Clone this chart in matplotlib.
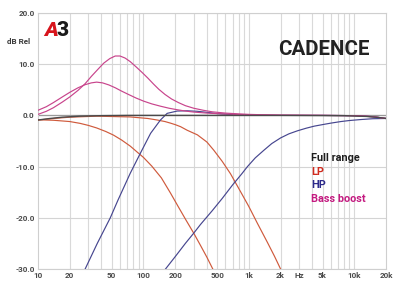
import matplotlib
matplotlib.use("Agg")
import matplotlib.pyplot as plt
from matplotlib.ticker import FixedLocator, NullFormatter, NullLocator

# ---- data ----
full_f = [10, 13, 17, 25, 40, 70, 150, 500, 2000, 8000, 13000, 17000, 20000]
full_db = [-0.9, -0.6, -0.35, -0.15, -0.05, 0, 0, 0, 0, -0.05, -0.2, -0.4, -0.6]

lp1_f = [10, 14, 20, 25, 30, 36, 44, 52, 62, 75, 90, 100, 120, 148, 181, 215, 251, 300, 348, 400, 455]
lp1_db = [-0.85, -0.95, -1.2, -1.55, -1.95, -2.45, -3.15, -3.85, -4.8, -6.0, -7.4, -8.2, -9.9, -12.2, -15.2, -17.9, -20.3, -23.0, -25.4, -27.7, -30]

lp2_f = [10, 15, 20, 36, 75, 110, 135, 160, 180, 200, 225, 260, 325, 400, 465, 560, 670, 840, 1000, 1200, 1500, 1750, 2000]
lp2_db = [-0.9, -0.55, -0.35, -0.15, -0.3, -0.6, -0.9, -1.2, -1.5, -1.8, -2.2, -2.9, -3.8, -5.2, -6.8, -9, -11.4, -15, -17.8, -21, -24.8, -27.5, -30]

hp1_f = [28, 36.5, 48.5, 57.5, 75, 93.5, 117, 145, 168, 209, 260, 325, 400, 505, 700, 970, 2000, 5000, 10000, 15000, 20000]
hp1_db = [-30, -25, -20, -16.5, -11.3, -7.4, -3.5, -0.9, 0.4, 0.85, 0.9, 0.8, 0.6, 0.35, 0.15, 0.05, 0, 0, -0.05, -0.25, -0.6]

hp2_f = [162, 200, 250, 300, 348, 450, 560, 700, 850, 970, 1150, 1390, 1650, 2000, 2400, 2900, 3500, 4170, 5000, 6030, 7480, 9000, 11700, 15000, 20000]
hp2_db = [-30, -27.6, -25, -23, -21.3, -18.6, -16.2, -13.6, -11.5, -10, -8.3, -6.8, -5.5, -4.4, -3.6, -3.0, -2.5, -2.1, -1.8, -1.5, -1.2, -1.0, -0.8, -0.65, -0.6]

bb1_f = [10, 12, 14, 17, 20, 24, 28, 32, 37, 42, 48, 54, 60, 67, 75, 85, 97, 110, 125, 140, 160, 185, 215, 250, 300, 370, 450, 600, 800, 1000, 1500, 2000, 5000, 10000, 15000, 20000]
bb1_db = [0.2, 0.8, 1.5, 2.6, 3.6, 4.9, 6.2, 7.6, 9.0, 10.2, 11.1, 11.6, 11.6, 11.2, 10.5, 9.5, 8.4, 7.3, 6.1, 5.1, 4.1, 3.2, 2.5, 1.9, 1.4, 1.0, 0.7, 0.45, 0.3, 0.2, 0.1, 0.05, 0, -0.05, -0.25, -0.6]

bb2_f = [10, 12, 14, 17, 20, 24, 28, 32, 36, 41, 47, 54, 62, 72, 85, 100, 120, 145, 175, 210, 250, 300, 400, 550, 800, 1200, 2000, 5000, 10000, 15000, 20000]
bb2_db = [1.0, 1.7, 2.5, 3.6, 4.5, 5.4, 6.0, 6.35, 6.5, 6.35, 5.95, 5.4, 4.75, 4.1, 3.4, 2.8, 2.25, 1.8, 1.4, 1.1, 0.85, 0.65, 0.45, 0.3, 0.18, 0.1, 0.03, 0, -0.05, -0.25, -0.6]

x_ticks = [10, 20, 50, 100, 200, 500, 1000, 2000, 3000, 5000, 10000, 20000]
x_labels = ["10", "20", "50", "100", "200", "500", "1k", "2k", "Hz", "5k", "10k", "20k"]
y_ticks = [-30, -20, -10, 0, 10, 20]
y_labels = ["-30.0", "-20.0", "-10.0", "0.0", "10.0", "20.0"]

legend_items = ["Full range", "LP", "HP", "Bass boost"]

# ---- style ----
c_full = "#4a4a4a"
c_lp = "#cf5a3c"
c_hp = "#46468f"
c_bb = "#c8448c"
legend_colors = ["#1e1e1e", "#d02a1e", "#2c2a8a", "#c41a80"]
FONT = "Roboto"

fig = plt.figure(figsize=(4.0, 2.87), dpi=100)
ax = fig.add_axes([38 / 400, 1 - 269 / 287, (386 - 38) / 400, (269 - 13) / 287])
ax.set_xscale("log")
ax.set_xlim(10, 20000)
ax.set_ylim(-30, 20)

# grid
minor = []
for dec in [10, 100, 1000, 10000]:
    for m in range(1, 10):
        v = dec * m
        if 10 < v < 20000:
            minor.append(v)
for v in minor:
    ax.axvline(v, color="#d9d9d9", lw=0.8, zorder=0)
for v in y_ticks:
    ax.axhline(v, color="#d4d4d4", lw=0.8, zorder=0)
ax.axhline(0, color="#9a9a9a", lw=0.9, zorder=0)

for s in ax.spines.values():
    s.set_color("#cfcfcf")
    s.set_linewidth(0.8)

lw = 0.85
ax.plot(lp1_f, lp1_db, color=c_lp, lw=lw, zorder=3)
ax.plot(lp2_f, lp2_db, color=c_lp, lw=lw, zorder=3)
ax.plot(hp1_f, hp1_db, color=c_hp, lw=lw, zorder=3)
ax.plot(hp2_f, hp2_db, color=c_hp, lw=lw, zorder=3)
ax.plot(bb1_f, bb1_db, color=c_bb, lw=lw, zorder=4)
ax.plot(bb2_f, bb2_db, color=c_bb, lw=lw, zorder=4)
ax.plot(full_f, full_db, color=c_full, lw=1.0, zorder=5)

ax.xaxis.set_major_locator(FixedLocator(x_ticks))
ax.xaxis.set_minor_locator(NullLocator())
ax.xaxis.set_minor_formatter(NullFormatter())
ax.set_xticks(x_ticks)
ax.set_xticklabels(x_labels)
ax.set_yticks(y_ticks)
ax.set_yticklabels(y_labels)
ax.tick_params(axis="both", length=0, labelsize=5.8, labelcolor="#4a4a4a")
ax.tick_params(axis="x", pad=2.0)
ax.tick_params(axis="y", pad=2.5)
for lab in ax.get_xticklabels() + ax.get_yticklabels():
    lab.set_fontfamily(FONT)
    lab.set_fontweight("bold")

fig.text(7 / 400, 1 - 42 / 287, "dB Rel", fontsize=5.8, fontweight="bold",
         color="#3a3a3a", family=FONT, va="center", ha="left")

# logo
fig.text(44 / 400, 1 - 30 / 287, "A", fontsize=15, fontweight="black",
         color="#d7141c", family=FONT, va="center", ha="left", style="italic")
fig.text(57 / 400, 1 - 30 / 287, "3", fontsize=15, fontweight="black",
         color="#1a1a1a", family=FONT, va="center", ha="left")

fig.text(370 / 400, 1 - 49.5 / 287, "CADENCE", fontsize=14.8, fontweight="bold",
         color="#222222", family=FONT, va="center", ha="right")

ys = [158, 172, 185.5, 199]
for t, col, yy in zip(legend_items, legend_colors, ys):
    fig.text(311 / 400, 1 - yy / 287, t, fontsize=7.8, fontweight="bold",
             color=col, family=FONT, va="center", ha="left")

fig.savefig("out.png", dpi=100, facecolor="white")
